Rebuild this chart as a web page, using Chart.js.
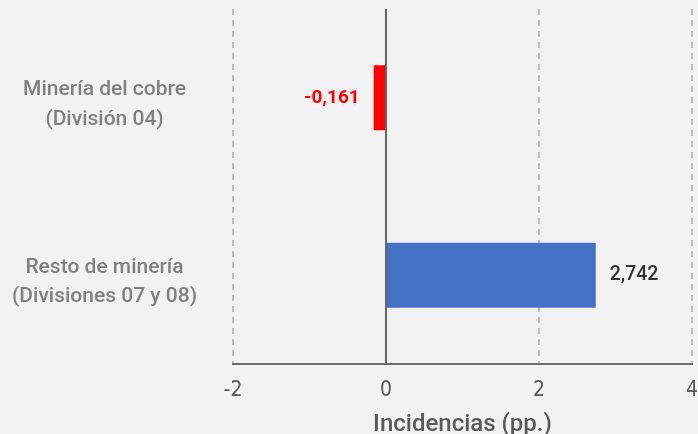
<!DOCTYPE html>
<html>
<head>
<meta charset="utf-8">
<script src="https://cdn.jsdelivr.net/npm/chart.js@4/dist/chart.umd.min.js"></script>
<style>
html,body{margin:0;padding:0;background:#f2f2f2;overflow:hidden;}
#wrap{width:698px;height:434px;}
</style>
</head>
<body>
<div id="wrap"><canvas id="c" width="698" height="434"></canvas></div>
<script>
const categories = [
  ["Minería del cobre", "(División 04)"],
  ["Resto de minería", "(Divisiones 07 y 08)"]
];
const values = [-0.161, 2.742];
const barColors = ["#ff0000", "#4472c4"];
const labelColors = ["#ff0000", "#333333"];
const axisTitle = "Incidencias (pp.)";

const LABEL_FONT = "Roboto, 'DejaVu Sans Condensed', sans-serif";

const fmt = v => v.toFixed(3).replace('.', ',');

const valueLabels = {
  id: 'valueLabels',
  afterDatasetsDraw(chart) {
    const ctx = chart.ctx;
    const meta = chart.getDatasetMeta(0);
    ctx.save();
    ctx.textBaseline = 'middle';
    meta.data.forEach((el, i) => {
      const v = values[i];
      ctx.fillStyle = labelColors[i];
      if (v < 0) {
        ctx.font = "bold 19px " + LABEL_FONT;
        ctx.textAlign = 'right'; ctx.fillText(fmt(v), el.x - 14, el.y);
      } else {
        ctx.font = "500 19.5px " + LABEL_FONT;
        ctx.textAlign = 'left'; ctx.fillText(fmt(v), el.x + 14, el.y);
      }
    });
    ctx.restore();
  }
};

const zeroLine = {
  id: 'zeroLine',
  afterDatasetsDraw(chart) {
    const xs = chart.scales.x;
    const a = chart.chartArea;
    const x = Math.round(xs.getPixelForValue(0));
    const ctx = chart.ctx;
    ctx.save();
    ctx.strokeStyle = '#666666';
    ctx.lineWidth = 2;
    ctx.beginPath();
    ctx.moveTo(x, a.top);
    ctx.lineTo(x, a.bottom);
    ctx.stroke();
    ctx.restore();
  }
};

new Chart(document.getElementById('c'), {
  type: 'bar',
  data: {
    labels: categories,
    datasets: [{
      data: values,
      backgroundColor: barColors,
      borderWidth: 0,
      categoryPercentage: 1,
      barPercentage: 0.366
    }]
  },
  options: {
    indexAxis: 'y',
    responsive: false,
    animation: false,
    layout: { padding: { top: 9, left: 0, right: 0, bottom: 0 } },
    plugins: { legend: { display: false }, tooltip: { enabled: false } },
    scales: {
      x: {
        min: -2, max: 4,
        ticks: { stepSize: 2, color: '#595959', font: { family: "'DejaVu Sans Condensed', sans-serif", size: 21 }, padding: 14 },
        grid: {
          drawTicks: false,
          color: ctx => ctx.tick && ctx.tick.value === 0 ? 'rgba(0,0,0,0)' : '#bdbdbd',
          lineWidth: 2
        },
        border: { display: true, color: '#6b6b6b', width: 2, dash: [6, 5] },
        title: { display: true, text: axisTitle, color: '#595959', font: { family: LABEL_FONT, size: 24, weight: '500' }, padding: { top: -3, bottom: -5 } },
        afterFit: s => { s.paddingRight = 6; s.paddingLeft = 0; s.height = 70; }
      },
      y: {
        grid: { display: false, drawTicks: false },
        border: { display: false },
        ticks: { color: '#808080', crossAlign: 'center', padding: 36, labelOffset: 7, font: { family: LABEL_FONT, size: 21, weight: '500', lineHeight: 1.42 } },
        afterFit: s => { s.width = 233; s.paddingTop = 0; s.paddingBottom = 0; }
      }
    }
  },
  plugins: [zeroLine, valueLabels]
});
</script>
</body>
</html>
